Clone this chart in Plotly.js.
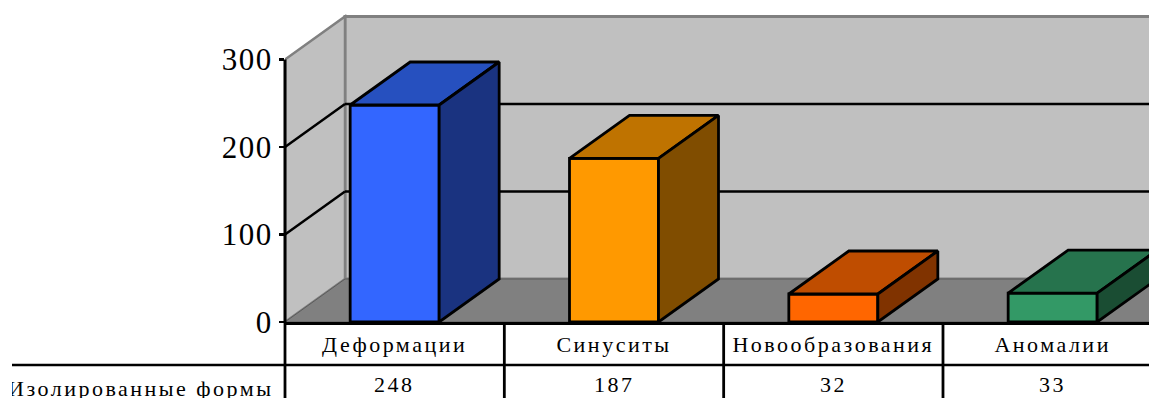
<!DOCTYPE html>
<html><head><meta charset="utf-8">
<script src="https://cdn.plot.ly/plotly-3.0.1.min.js"></script>
<style>
html,body{margin:0;padding:0;background:#fff;overflow:hidden}
#c{width:1149px;height:398px}
.ytick text{letter-spacing:1.5px}
.xtick text{letter-spacing:2.5px}
.annotation-text{letter-spacing:2.5px}
</style></head><body><div id="c"></div>
<script>
const categories = ["Деформации","Синуситы","Новообразования","Аномалии"];
const seriesName = "Изолированные формы";
const values = [248,187,32,33];
const frontColors = ["#3366FF","#FF9900","#FF6600","#339966"];
const topColors = ["#2650BF","#BF7300","#BF4D00","#26734D"];
const sideColors = ["#1A3380","#804D00","#803300","#1A4D33"];
const yTicks = [0,100,200,300];

// Geometry of the plot, in pixels, and the depth offset in data units
const W=1149,H=398,left=285,floorY=322,catW=219.33,pxPerUnit=262.5/300;
const plotW=W-left,plotH=floorY;
const depthX=60/catW,depthY=43/pxPerUnit;
const barW=89/catW,barC=0.5;
const xMax=plotW/catW,yMax=plotH/pxPerUnit,top300=yTicks[yTicks.length-1];
const pyPaper=p=>-(p-floorY)/plotH, pxPaper=p=>(p-left)/plotW;

function poly(xs,ys,fill){return {type:'scatter',mode:'lines',x:xs.concat(xs[0]),y:ys.concat(ys[0]),
  fill:'toself',fillcolor:fill,line:{color:'#000',width:2.8},hoverinfo:'skip',showlegend:false};}

const traces=[{type:'bar',x:categories.map((c,i)=>i+barC),y:values,width:barW,
  marker:{color:frontColors,line:{color:'#000',width:2.8}},hoverinfo:'y',showlegend:false}];
values.forEach((v,i)=>{
  const x0=i+barC-barW/2,x1=i+barC+barW/2;
  traces.push(poly([x0,x1,x1+depthX,x0+depthX],[v,v,v+depthY,v+depthY],topColors[i]));
  traces.push(poly([x1,x1+depthX,x1+depthX,x1],[0,depthY,v+depthY,v],sideColors[i]));
});

const shapes=[];
const wallPoly=(pts,fill,lc,lw)=>({type:'path',xref:'x',yref:'y',layer:'below',fillcolor:fill,
  line:{color:lc,width:lw},path:'M'+pts.map(p=>p.join(',')).join('L')+'Z'});
shapes.push(wallPoly([[depthX,depthY],[xMax+1,depthY],[xMax+1,top300+depthY],[depthX,top300+depthY]],'#C0C0C0','#808080',3));
shapes.push(wallPoly([[0,0],[depthX,depthY],[depthX,top300+depthY],[0,top300]],'#C0C0C0','#808080',2.5));
shapes.push(wallPoly([[0,0],[depthX,depthY],[xMax+1,depthY],[xMax+1,0]],'#808080','#5a5a5a',1));
yTicks.slice(1,-1).forEach(t=>{
  shapes.push({type:'line',xref:'x',yref:'y',layer:'below',x0:0,y0:t,x1:depthX,y1:t+depthY,line:{color:'#000',width:2.5}});
  shapes.push({type:'line',xref:'x',yref:'y',layer:'below',x0:depthX,y0:t+depthY,x1:xMax+1,y1:t+depthY,line:{color:'#000',width:2.5}});
});
// value axis line, stopping at the top tick
shapes.push({type:'line',xref:'paper',yref:'y',x0:0,x1:0,y0:0,y1:top300,line:{color:'#000',width:3}});
// table rules below the axis
categories.forEach((c,i)=>{
  shapes.push({type:'line',xref:'paper',yref:'paper',x0:pxPaper(left+i*catW),x1:pxPaper(left+i*catW),y0:0,y1:pyPaper(H),line:{color:'#000',width:2.8}});
});
shapes.push({type:'line',xref:'paper',yref:'paper',x0:pxPaper(12),x1:1,y0:pyPaper(365),y1:pyPaper(365),line:{color:'#000',width:2.5}});

const tf={family:'"Liberation Serif",serif',size:22,color:'#000'};
const annotations=values.map((v,i)=>({xref:'x',yref:'paper',x:i+barC,y:pyPaper(384),text:String(v),
  showarrow:false,xanchor:'center',yanchor:'middle',font:tf}));
annotations.push({xref:'paper',yref:'paper',x:pxPaper(276),y:pyPaper(388),text:seriesName,showarrow:false,
  xanchor:'right',yanchor:'middle',font:tf});
annotations.push({xref:'paper',yref:'paper',x:pxPaper(0),y:pyPaper(385),text:' ',showarrow:false,width:12,height:30,
  xanchor:'left',yanchor:'middle',bgcolor:'#fff',borderpad:0,borderwidth:0,font:{size:10}});

Plotly.newPlot('c',traces,{
  width:W,height:H,margin:{l:left,r:0,t:0,b:H-floorY,pad:0},
  paper_bgcolor:'#fff',plot_bgcolor:'#fff',showlegend:false,bargap:0,
  xaxis:{range:[0,xMax],tickmode:'array',tickvals:categories.map((c,i)=>i+barC),ticktext:categories,
    ticks:'',tickangle:0,ticklabelstandoff:1,showgrid:false,zeroline:false,showline:true,linecolor:'#000',linewidth:3,
    tickfont:tf,fixedrange:true},
  yaxis:{range:[0,yMax],tickmode:'array',tickvals:yTicks,ticks:'outside',ticklen:5,tickwidth:2.8,tickcolor:'#000',
    showgrid:false,zeroline:false,showline:false,ticklabelstandoff:0,
    tickfont:{family:'"Liberation Serif",serif',size:31,color:'#000'},fixedrange:true},
  shapes,annotations
},{displayModeBar:false,staticPlot:true});
</script></body></html>
